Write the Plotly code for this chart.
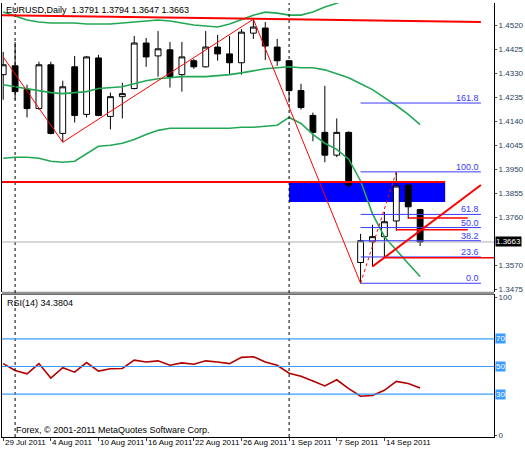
import plotly.graph_objects as go

# EURUSD daily bars, 29 Jul 2011 .. 16 Sep 2011
opens = [1.4324, 1.4359, 1.4265, 1.4190, 1.4363, 1.4092, 1.4355, 1.4167, 1.4390, 1.4159,
         1.4237, 1.4269, 1.4449, 1.4398, 1.4422, 1.4324, 1.4379, 1.4355, 1.4433, 1.4406,
         1.4371, 1.4488, 1.4508, 1.4433, 1.4379, 1.4261, 1.4163, 1.4096, 1.4006, 1.4096,
         1.3582, 1.3664, 1.3684, 1.3746, 1.3888, 1.3791]
highs = [1.4414, 1.4453, 1.4284, 1.4375, 1.4375, 1.4300, 1.4398, 1.4398, 1.4402, 1.4253,
         1.4292, 1.4477, 1.4469, 1.4496, 1.4453, 1.4453, 1.4386, 1.4496, 1.4481, 1.4477,
         1.4504, 1.4543, 1.4532, 1.4465, 1.4382, 1.4288, 1.4174, 1.4280, 1.4151, 1.4100,
         1.3695, 1.3731, 1.3782, 1.3939, 1.3890, 1.3794]
lows = [1.4225, 1.4225, 1.4155, 1.4186, 1.4088, 1.4057, 1.4135, 1.4155, 1.4160, 1.4108,
        1.4151, 1.4266, 1.4355, 1.4316, 1.4273, 1.4257, 1.4347, 1.4352, 1.4379, 1.4327,
        1.4324, 1.4465, 1.4382, 1.4359, 1.4214, 1.4186, 1.4061, 1.3978, 1.3998, 1.3876,
        1.3500, 1.3566, 1.3601, 1.3707, 1.3754, 1.3647]
closes = [1.4363, 1.4257, 1.4190, 1.4363, 1.4092, 1.4276, 1.4163, 1.4394, 1.4163, 1.4237,
          1.4249, 1.4449, 1.4394, 1.4426, 1.4316, 1.4394, 1.4355, 1.4433, 1.4406, 1.4371,
          1.4492, 1.4512, 1.4437, 1.4379, 1.4261, 1.4194, 1.4096, 1.4006, 1.4096, 1.3888,
          1.3668, 1.3684, 1.3743, 1.3884, 1.3802, 1.3663]

# Bollinger bands
bb_upper = [1.4571, 1.4555, 1.4540, 1.4532, 1.4528, 1.4528, 1.4528, 1.4524, 1.4524, 1.4524,
            1.4528, 1.4532, 1.4536, 1.4540, 1.4536, 1.4528, 1.4520, 1.4516, 1.4512, 1.4524,
            1.4540, 1.4559, 1.4571, 1.4567, 1.4559, 1.4559, 1.4571, 1.4591, 1.4606, 1.4626,
            1.4642, 1.4657, 1.4665, 1.4665, 1.4665, 1.4665]
bb_mid = [1.4284, 1.4276, 1.4269, 1.4261, 1.4253, 1.4249, 1.4253, 1.4257, 1.4269, 1.4273,
          1.4276, 1.4288, 1.4300, 1.4308, 1.4312, 1.4316, 1.4316, 1.4316, 1.4320, 1.4324,
          1.4331, 1.4339, 1.4347, 1.4351, 1.4355, 1.4351, 1.4351, 1.4343, 1.4327, 1.4312,
          1.4288, 1.4265, 1.4233, 1.4202, 1.4167, 1.4127]
bb_lower = [1.3994, 1.3998, 1.3998, 1.3994, 1.3982, 1.3978, 1.3982, 1.4013, 1.4041, 1.4045,
            1.4053, 1.4068, 1.4088, 1.4104, 1.4112, 1.4112, 1.4112, 1.4112, 1.4112, 1.4112,
            1.4116, 1.4116, 1.4120, 1.4124, 1.4155, 1.4131, 1.4088, 1.4053, 1.4029, 1.3990,
            1.3904, 1.3774, 1.3684, 1.3629, 1.3578, 1.3527]

rsi = [52.1, 47.1, 44.7, 52.1, 41.7, 49.1, 45.9, 52.9, 46.7, 48.4,
       48.6, 54.6, 53.3, 54.1, 50.9, 52.6, 51.6, 54.1, 53.3, 52.1,
       56.6, 57.1, 53.3, 50.9, 45.2, 42.9, 39.5, 36.0, 40.4, 34.0,
       28.5, 29.0, 32.8, 39.2, 37.7, 34.4]
rsi_levels = [70, 50, 30]

date_labels = ["29 Jul 2011", "4 Aug 2011", "10 Aug 2011", "16 Aug 2011", "22 Aug 2011",
               "26 Aug 2011", "1 Sep 2011", "7 Sep 2011", "14 Sep 2011"]
label_every = 4
separators = [1, 24]  # month separators (bar index)

price_ticks = [1.4520, 1.4425, 1.4330, 1.4235, 1.4140, 1.4045, 1.3950, 1.3855, 1.3760, 1.3570, 1.3475]
last_price = 1.3663

# drawn objects
top_line = [(-0.2, 1.4559), (40.1, 1.4532)]
zigzag = [(0, 1.4394), (5, 1.4057), (21, 1.4543), (30, 1.3500)]
resist_level, box_bottom, box_x = 1.3900, 1.3821, (24, 37.1)
fib_low, fib_high, fib_x = 1.3500, 1.3940, (30, 40.1)
fib_ratios = [0.0, 23.6, 38.2, 50.0, 61.8, 100.0, 161.8]
trend_line = [(31, 1.3566), (40.1, 1.3888)]
hlines = [(1.3758, 34, 39), (1.3711, 33, 39), (1.3601, 32, 41.3)]

n = len(closes)
x = list(range(n))
FONT = "Liberation Sans"
FS = 8

fig = go.Figure()
for band in (bb_upper, bb_mid, bb_lower):
    fig.add_trace(go.Scatter(x=x, y=band, mode="lines", line=dict(color="#22a855", width=1.6),
                             yaxis="y2", hoverinfo="skip"))
fig.add_trace(go.Candlestick(x=x, open=opens, high=highs, low=lows, close=closes, yaxis="y2",
                             increasing=dict(line=dict(color="black", width=1), fillcolor="white"),
                             decreasing=dict(line=dict(color="black", width=1), fillcolor="black"),
                             whiskerwidth=0))
fig.add_trace(go.Scatter(x=x, y=rsi, mode="lines", line=dict(color="#b00000", width=1.6), yaxis="y"))

shapes = []
annotations = []
# separator between panes
shapes.append(dict(type="line", xref="paper", yref="paper", x0=0, x1=1, y0=0.331, y1=0.331,
                   line=dict(color="#909090", width=3)))
for s in separators:
    shapes.append(dict(type="line", xref="x", yref="paper", x0=s, x1=s, y0=0, y1=1,
                       line=dict(color="black", width=1, dash="dot")))
for lv in rsi_levels:
    shapes.append(dict(type="line", xref="paper", yref="y", x0=0, x1=1, y0=lv, y1=lv,
                       line=dict(color="#3b9cff", width=1.2)))
    annotations.append(dict(xref="paper", yref="y", x=1.002, y=lv, text=str(lv), showarrow=False,
                            xanchor="left", bgcolor="#3b9cff", font=dict(color="white", size=FS, family=FONT),
                            borderpad=0))
# current price line
shapes.append(dict(type="line", xref="paper", yref="y2", x0=0, x1=1, y0=last_price, y1=last_price,
                   line=dict(color="#b0b0b0", width=1)))
# blue box + resistance
shapes.append(dict(type="rect", xref="x", yref="y2", x0=box_x[0], x1=box_x[1], y0=box_bottom,
                   y1=resist_level, fillcolor="#0000ff", line=dict(width=0), layer="below"))
shapes.append(dict(type="line", xref="x", yref="y2", x0=-0.2, x1=box_x[1], y0=resist_level,
                   y1=resist_level, line=dict(color="#ff0000", width=2)))
shapes.append(dict(type="line", xref="x", yref="y2", x0=top_line[0][0], x1=top_line[1][0],
                   y0=top_line[0][1], y1=top_line[1][1], line=dict(color="#ff0000", width=2)))
for (xa, ya), (xb, yb) in zip(zigzag[:-1], zigzag[1:]):
    shapes.append(dict(type="line", xref="x", yref="y2", x0=xa, x1=xb, y0=ya, y1=yb,
                       line=dict(color="#ff0000", width=1)))
# fibonacci
for r in fib_ratios:
    lv = fib_low + (fib_high - fib_low) * r / 100
    shapes.append(dict(type="line", xref="x", yref="y2", x0=fib_x[0], x1=fib_x[1], y0=lv, y1=lv,
                       line=dict(color="#3a3aff", width=1)))
    annotations.append(dict(xref="x", yref="y2", x=fib_x[1], y=lv, text="%.1f" % r, showarrow=False,
                            xanchor="right", yanchor="bottom", yshift=-2,
                            font=dict(color="#3a3aff", size=FS + 1, family=FONT)))
shapes.append(dict(type="line", xref="x", yref="y2", x0=fib_x[0], x1=33, y0=fib_low, y1=fib_high,
                   line=dict(color="#ff0000", width=1, dash="dot")))
shapes.append(dict(type="line", xref="x", yref="y2", x0=trend_line[0][0], x1=trend_line[1][0],
                   y0=trend_line[0][1], y1=trend_line[1][1], line=dict(color="#ff0000", width=2)))
for lv, xa, xb in hlines:
    shapes.append(dict(type="line", xref="x", yref="y2", x0=xa, x1=xb, y0=lv, y1=lv,
                       line=dict(color="#ff0000", width=1.5)))

annotations += [
    dict(xref="paper", yref="paper", x=0.004, y=1.0, text="EURUSD,Daily  1.3791 1.3794 1.3647 1.3663",
         showarrow=False, xanchor="left", yanchor="top", font=dict(size=FS + 1, family=FONT, color="black")),
    dict(xref="paper", yref="paper", x=0.006, y=0.325, text="RSI(14) 34.3804",
         showarrow=False, xanchor="left", yanchor="top", font=dict(size=FS + 1, family=FONT, color="black")),
    dict(xref="paper", yref="paper", x=0.024, y=0.0, text="Forex, © 2001-2011 MetaQuotes Software Corp.",
         showarrow=False, xanchor="left", yanchor="bottom", font=dict(size=FS + 1, family=FONT, color="black")),
    dict(xref="paper", yref="y2", x=1.002, y=last_price, text="1.3663", showarrow=False, xanchor="left",
         bgcolor="black", font=dict(color="white", size=FS, family=FONT), borderpad=0),
]
for k, lab in enumerate(date_labels):
    annotations.append(dict(xref="x", yref="paper", x=k * label_every - 0.05, y=0, text=lab, showarrow=False,
                            xanchor="left", yanchor="top", yshift=1,
                            font=dict(size=FS, family=FONT, color="black")))

fig.update_layout(
    width=525, height=450, margin=dict(l=1, r=28, t=3, b=13),
    paper_bgcolor="white", plot_bgcolor="white", showlegend=False,
    shapes=shapes, annotations=annotations,
    xaxis=dict(range=[-0.1, 41.2], showgrid=False, rangeslider=dict(visible=False), showticklabels=False,
               tickvals=[k * label_every for k in range(len(date_labels))], ticks="outside", ticklen=3,
               linecolor="black", mirror=True, showline=True),
    yaxis=dict(domain=[0, 0.328], range=[-1, 102], side="right", tickvals=[0, 100], showgrid=False,
               ticks="outside", ticklen=2, linecolor="black", showline=True, mirror=True,
               tickfont=dict(size=FS, family=FONT)),
    yaxis2=dict(domain=[0.335, 1.0], range=[1.3467, 1.4607], side="right", tickvals=price_ticks,
                tickformat=".4f", showgrid=False, ticks="outside", ticklen=2, linecolor="black",
                showline=True, mirror=True, tickfont=dict(size=FS, family=FONT)),
)

fig.write_html("out.html", post_script="document.body.style.margin='0';",
               config={"displayModeBar": False})
